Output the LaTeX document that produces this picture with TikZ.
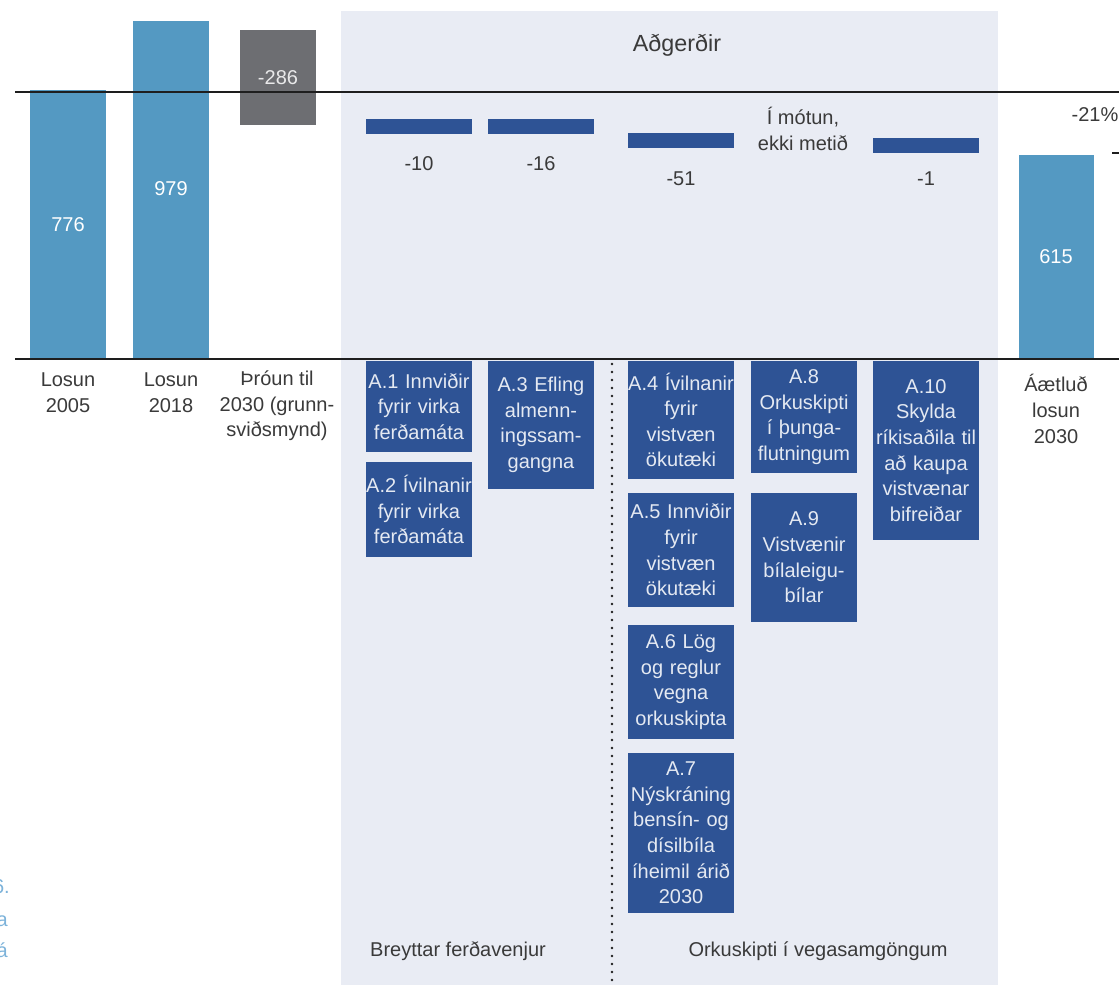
\documentclass[tikz,border=0pt]{standalone}
\usepackage{fontspec}
\setmainfont{Liberation Sans}
\definecolor{panel}{HTML}{E9ECF4}
\definecolor{lblue}{HTML}{5499C2}
\definecolor{dblue}{HTML}{2E5395}
\definecolor{dgray}{HTML}{6D6E72}
\definecolor{txt}{HTML}{3A3A3A}
\definecolor{boxtxt}{HTML}{E4E9F2}
\definecolor{margintxt}{HTML}{7DB3DA}
\definecolor{axiscol}{HTML}{1E1E1E}
\begin{document}
\begin{tikzpicture}[x=0.75pt,y=-0.75pt,
  every node/.style={font=\fontsize{15}{19.2}\selectfont, inner sep=0pt},
  abox/.style={fill=dblue, text=boxtxt, minimum width=79.5pt, text width=79.5pt, align=center},
  lbl/.style={text=txt, align=center},
  barlbl/.style={text=white},
  axisline/.style={line width=1.8pt, draw=axiscol},
]
\useasboundingbox (0,0) rectangle (1119,985);
\fill[white] (0,0) rectangle (1119,985);
% panel
\fill[panel] (341,11) rectangle (998,985);
% main bars
\fill[lblue] (30,90) rectangle (106,359);
\fill[lblue] (133,21) rectangle (209,359);
\fill[dgray] (240,30) rectangle (316,125);
\fill[lblue] (1019,155) rectangle (1094,359);
% action bars
\fill[dblue] (366,119) rectangle (472,134);
\fill[dblue] (488,119) rectangle (594,134);
\fill[dblue] (628,133) rectangle (734,148);
\fill[dblue] (873,138) rectangle (979,153);
% axis lines
\coordinate (topL) at (15,92);
\coordinate (topR) at (1119,92);
\coordinate (baseL) at (15,359);
\coordinate (baseR) at (1119,359);
\draw[axisline] (topL) -- (topR);
\draw[axisline] (baseL) -- (baseR);
\coordinate (tickL) at (1112,153);
\coordinate (tickR) at (1119,153);
\draw[axisline] (tickL) -- (tickR);
% dotted divider
\coordinate (dotT) at (612,364);
\coordinate (dotB) at (612,985);
\draw[axiscol, line width=2pt, line cap=round, dash pattern=on 0pt off 6pt] (dotT) -- (dotB);
% bar labels
\node[barlbl] (v776) at (68,225) {776};
\node[barlbl] (v979) at (171,189) {979};
\node[text=white!85!dgray] (v286) at (278,78) {-286};
\node[barlbl] (v615) at (1056,257) {615};
\node[lbl, font=\fontsize{17.5}{21}\selectfont] (title) at (677,45) {Aðgerðir};
\node[lbl] (v10) at (419,164) {-10};
\node[lbl] (v16) at (541,164) {-16};
\node[lbl] (v51) at (681,179) {-51};
\node[lbl] (v1) at (926,179) {-1};
\node[lbl] (motun) at (803,129) {Í mótun,\\ekki metið};
\node[lbl] (pct) at (1095,115) {-21\%};
% axis labels
\node[lbl] (l2005) at (68,393) {Losun\\2005};
\node[lbl] (l2018) at (171,393) {Losun\\2018};
\node[lbl] (lthr) at (277,406) {Þróun til\\2030 (grunn-\\sviðsmynd)};
\node[lbl] (l2030) at (1056,409) {Áætluð\\losun\\2030};
% action boxes
\node[abox, minimum height=68.25pt] (a1) at (419,406.5) {A.1 Innviðir\\fyrir virka\\ferðamáta};
\node[abox, minimum height=71.25pt] (a2) at (419,509.5) {A.2 Ívilnanir\\fyrir virka\\ferðamáta};
\node[abox, minimum height=96pt] (a3) at (541,425) {A.3 Efling\\almenn-\\ingssam-\\gangna};
\node[abox, minimum height=88.5pt] (a4) at (681,420) {A.4 Ívilnanir\\fyrir\\vistvæn\\ökutæki};
\node[abox, minimum height=85.5pt] (a5) at (681,550) {A.5 Innviðir\\fyrir\\vistvæn\\ökutæki};
\node[abox, minimum height=85.5pt] (a6) at (681,682) {A.6 Lög\\og reglur\\vegna\\orkuskipta};
\node[abox, minimum height=120pt] (a7) at (681,833) {A.7\\Nýskráning\\bensín- og\\dísilbíla\\íheimil árið\\2030};
\node[abox, minimum height=84pt] (a8) at (804,417) {A.8\\Orkuskipti\\í þunga-\\flutningum};
\node[abox, minimum height=96.75pt] (a9) at (804,557.5) {A.9\\Vistvænir\\bílaleigu-\\bílar};
\node[abox, minimum height=134.25pt] (a10) at (926,450.5) {A.10\\Skylda\\ríkisaðila til\\að kaupa\\vistvænar\\bifreiðar};
% group labels
\node[lbl] (g1) at (458,951) {Breyttar ferðavenjur};
\node[lbl] (g2) at (818,951) {Orkuskipti í vegasamgöngum};
% cropped margin text (cut by the left edge, as in the reference)
\node[text=margintxt, anchor=east] (m1) at (10,887) {6.};
\node[text=margintxt, anchor=east] (m2) at (8,921) {a};
\node[text=margintxt, anchor=east] (m3) at (8,950) {á};
\end{tikzpicture}
\end{document}
